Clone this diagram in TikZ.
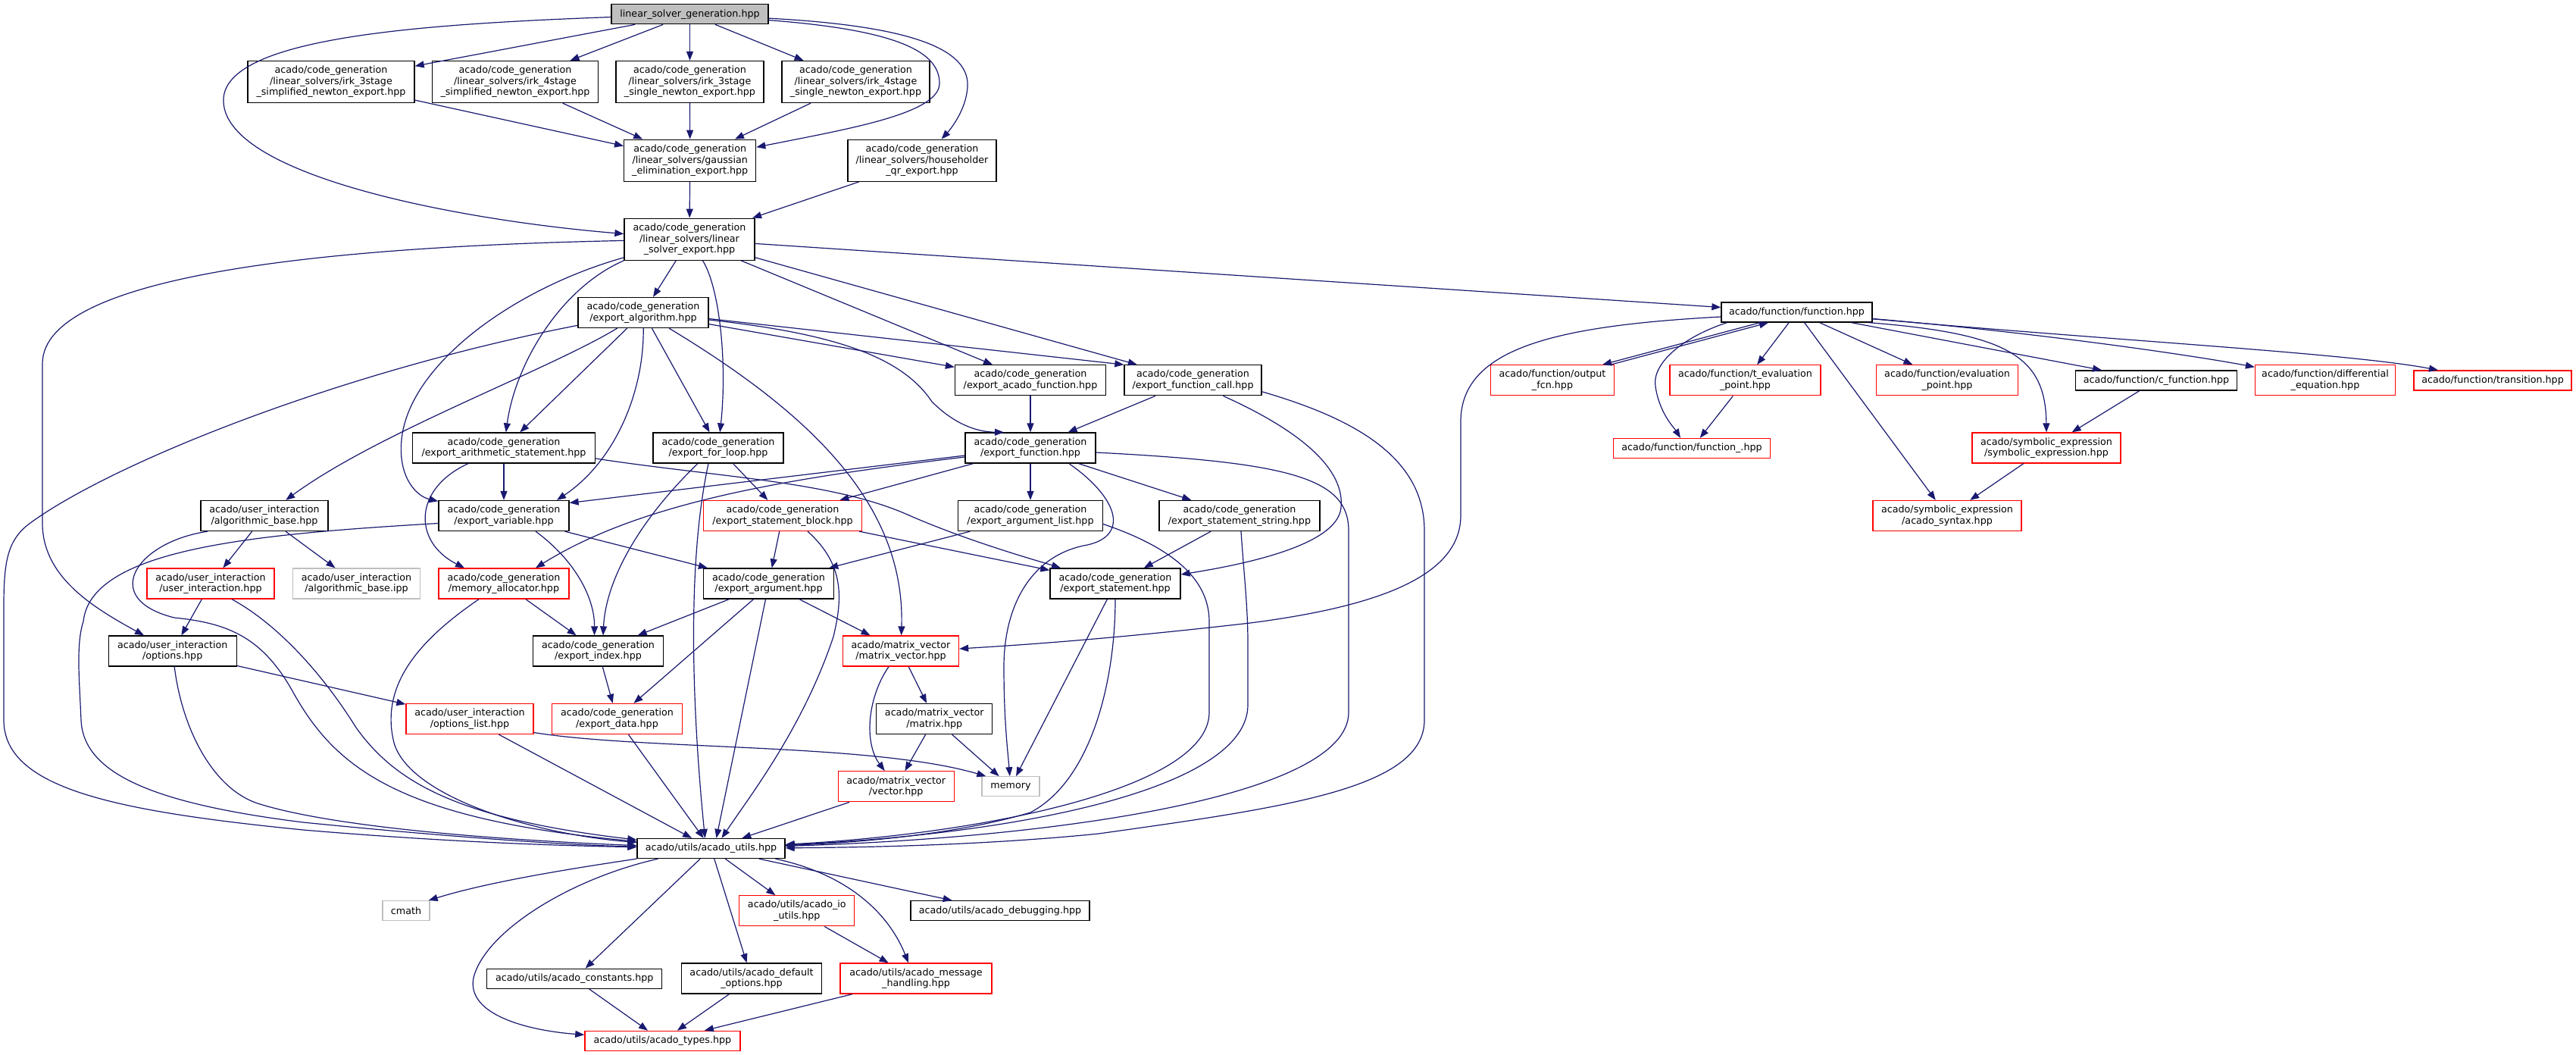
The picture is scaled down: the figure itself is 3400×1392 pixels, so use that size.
\documentclass[tikz,border=0pt]{standalone}
\usepackage{fontspec}
\setmainfont{DejaVu Sans}
\usetikzlibrary{arrows.meta}
\definecolor{edgec}{HTML}{191970}
\definecolor{grayb}{HTML}{BFBFBF}
\definecolor{redb}{HTML}{FF0000}
\newcommand{\dxfont}{\fontsize{12.7pt}{14.4pt}\selectfont}
\begin{document}
\begin{tikzpicture}[x=1pt,y=-1pt,
 nbase/.style={draw, line width=1.3pt, fill=white, align=center, inner xsep=1pt, inner ysep=0pt, font=\dxfont, text=black},
 nb/.style={nbase, draw=black},
 nr/.style={nbase, draw=redb},
 ng/.style={nbase, draw=grayb},
 nroot/.style={nbase, draw=black, fill=grayb},
 sz/.style 2 args={minimum width=#1pt, minimum height=#2pt},
 e/.style={draw=edgec, line width=1.2pt, -{Triangle[length=12pt,width=9pt]}}]
\fill[white] (0,0) rectangle (3400,1392);
\useasboundingbox (0,0) rectangle (3400,1392);
% nodes
\node[nroot, sz={207}{26}] (nT) at (910.5,18.7) {linear\_solver\_generation.hpp};
\node[nb, sz={220}{55}] (nA1) at (437,108) {acado/code\_generation\\/linear\_solvers/irk\_3stage\\\_simplified\_newton\_export.hpp};
\node[nb, sz={219}{55}] (nA2) at (680,108) {acado/code\_generation\\/linear\_solvers/irk\_4stage\\\_simplified\_newton\_export.hpp};
\node[nb, sz={195}{55}] (nA3) at (910.5,108) {acado/code\_generation\\/linear\_solvers/irk\_3stage\\\_single\_newton\_export.hpp};
\node[nb, sz={195}{55}] (nA4) at (1129.5,108) {acado/code\_generation\\/linear\_solvers/irk\_4stage\\\_single\_newton\_export.hpp};
\node[nb, sz={174}{55}] (nGa) at (910.7,211.7) {acado/code\_generation\\/linear\_solvers/gaussian\\\_elimination\_export.hpp};
\node[nb, sz={196}{55}] (nHo) at (1217,211.7) {acado/code\_generation\\/linear\_solvers/householder\\\_qr\_export.hpp};
\node[nb, sz={172}{55}] (nLs) at (910,315.7) {acado/code\_generation\\/linear\_solvers/linear\\\_solver\_export.hpp};
\node[nb, sz={172}{40}] (nEa) at (849,412.5) {acado/code\_generation\\/export\_algorithm.hpp};
\node[nb, sz={199}{26}] (nFu) at (2371.5,412) {acado/function/function.hpp};
\node[nb, sz={199}{40}] (nEaf) at (1360,501.8) {acado/code\_generation\\/export\_acado\_function.hpp};
\node[nb, sz={181}{40}] (nEfc) at (1574.5,501.8) {acado/code\_generation\\/export\_function\_call.hpp};
\node[nr, sz={163}{40}] (nOf) at (2049,501.8) {acado/function/output\\\_fcn.hpp};
\node[nr, sz={199}{40}] (nTe) at (2303.5,501.8) {acado/function/t\_evaluation\\\_point.hpp};
\node[nr, sz={187}{40}] (nEp) at (2570,501.8) {acado/function/evaluation\\\_point.hpp};
\node[nb, sz={213}{26}] (nCf) at (2846,502) {acado/function/c\_function.hpp};
\node[nr, sz={185}{40}] (nDe) at (3069,501.8) {acado/function/differential\\\_equation.hpp};
\node[nr, sz={208}{26}] (nTr) at (3290,502) {acado/function/transition.hpp};
\node[nb, sz={241}{40}] (nEas) at (665,591) {acado/code\_generation\\/export\_arithmetic\_statement.hpp};
\node[nb, sz={172}{40}] (nEfl) at (948,591) {acado/code\_generation\\/export\_for\_loop.hpp};
\node[nb, sz={172}{40}] (nEf) at (1360,591) {acado/code\_generation\\/export\_function.hpp};
\node[nr, sz={207}{26}] (nFx) at (2233,591.5) {acado/function/function\_.hpp};
\node[nr, sz={196}{40}] (nSe) at (2701,591) {acado/symbolic\_expression\\/symbolic\_expression.hpp};
\node[nb, sz={168}{40}] (nAb) at (349,680.5) {acado/user\_interaction\\/algorithmic\_base.hpp};
\node[nb, sz={172}{40}] (nEv) at (665,680.5) {acado/code\_generation\\/export\_variable.hpp};
\node[nr, sz={209}{40}] (nEsb) at (1033,680.5) {acado/code\_generation\\/export\_statement\_block.hpp};
\node[nb, sz={191}{40}] (nEal) at (1360,680.5) {acado/code\_generation\\/export\_argument\_list.hpp};
\node[nb, sz={212}{40}] (nEss) at (1636,680.5) {acado/code\_generation\\/export\_statement\_string.hpp};
\node[nr, sz={196}{40}] (nSyn) at (2570,680.5) {acado/symbolic\_expression\\/acado\_syntax.hpp};
\node[nr, sz={168}{40}] (nUi) at (278,770) {acado/user\_interaction\\/user\_interaction.hpp};
\node[ng, sz={168}{40}] (nAbi) at (470.5,770) {acado/user\_interaction\\/algorithmic\_base.ipp};
\node[nr, sz={172}{40}] (nMa) at (665,770) {acado/code\_generation\\/memory\_allocator.hpp};
\node[nb, sz={172}{40}] (nEar) at (1014.5,770) {acado/code\_generation\\/export\_argument.hpp};
\node[nb, sz={172}{40}] (nEs) at (1472,770) {acado/code\_generation\\/export\_statement.hpp};
\node[nb, sz={169}{40}] (nOpt) at (227.7,859) {acado/user\_interaction\\/options.hpp};
\node[nb, sz={172}{40}] (nEi) at (789.5,859) {acado/code\_generation\\/export\_index.hpp};
\node[nr, sz={153}{40}] (nMv) at (1189,859) {acado/matrix\_vector\\/matrix\_vector.hpp};
\node[nr, sz={168}{40}] (nOl) at (620,948.5) {acado/user\_interaction\\/options\_list.hpp};
\node[nr, sz={172}{40}] (nEd) at (814.5,948.5) {acado/code\_generation\\/export\_data.hpp};
\node[nb, sz={153}{40}] (nMat) at (1233.3,948.5) {acado/matrix\_vector\\/matrix.hpp};
\node[nr, sz={153}{40}] (nVec) at (1182.7,1037.8) {acado/matrix\_vector\\/vector.hpp};
\node[ng, sz={76}{26}] (nMem) at (1334,1037.8) {memory};
\node[nb, sz={195}{26}] (nUt) at (938.5,1119.5) {acado/utils/acado\_utils.hpp};
\node[ng, sz={62}{26}] (nCm) at (536,1201.7) {cmath};
\node[nr, sz={152}{40}] (nIo) at (1051.8,1201.8) {acado/utils/acado\_io\\\_utils.hpp};
\node[nb, sz={236}{26}] (nDb) at (1320,1201.7) {acado/utils/acado\_debugging.hpp};
\node[nb, sz={231}{26}] (nCo) at (758.3,1291.3) {acado/utils/acado\_constants.hpp};
\node[nb, sz={185}{40}] (nDo) at (992,1291) {acado/utils/acado\_default\\\_options.hpp};
\node[nr, sz={200}{40}] (nMh) at (1209,1291) {acado/utils/acado\_message\\\_handling.hpp};
\node[nr, sz={205}{26}] (nTy) at (874.4,1373.3) {acado/utils/acado\_types.hpp};
% edges from root
\draw[e] (nT) -- (nA1);
\draw[e] (nT) -- (nA2);
\draw[e] (nT) -- (nA3);
\draw[e] (nT) -- (nA4);
\draw[e] (nT) .. controls (1190,40) and (1240,70) .. (1240,110) .. controls (1240,150) and (1120,170) .. (nGa);
\draw[e] (nT) .. controls (1220,35) and (1280,70) .. (1277,115) .. controls (1275,145) and (1255,170) .. (nHo);
\draw[e] (nT) .. controls (550,32) and (300,50) .. (295,130) .. controls (290,230) and (600,290) .. (nLs);
\draw[e] (nA1) -- (nGa);
\draw[e] (nA2) -- (nGa);
\draw[e] (nA3) -- (nGa);
\draw[e] (nA4) -- (nGa);
\draw[e] (nGa) -- (nLs);
\draw[e] (nHo) -- (nLs);
% linear solver export
\draw[e] (nLs) -- (nEa);
\draw[e] (nLs.south west) .. controls (740,380) and (680,480) .. (nEas);
\draw[e] (nLs) .. controls (680,380) and (540,480) .. (530,580) .. controls (525,630) and (550,655) .. (nEv);
\draw[e] (nLs) .. controls (950,380) and (960,480) .. (nEfl);
\draw[e] (nLs) -- (nEaf);
\draw[e] (nLs) -- (nEfc);
\draw[e] (nLs) -- (nFu);
\draw[e] (nLs) .. controls (450,325) and (56,360) .. (56,480) -- (56,690) .. controls (56,760) and (120,800) .. (nOpt);
% export algorithm
\draw[e] (nEa) .. controls (720,490) and (500,570) .. (nAb);
\draw[e] (nEa) .. controls (450,490) and (150,610) .. (40,690) .. controls (10,712) and (5,740) .. (5,800) -- (5,950) .. controls (5,1040) and (150,1070) .. (400,1095) .. controls (600,1112) and (750,1116) .. (nUt);
\draw[e] (nEa) -- (nEas);
\draw[e] (nEa) .. controls (850,520) and (810,610) .. ([xshift=70pt]nEv.north);
\draw[e] (nEa) -- (nEfl);
\draw[e] (nEa) .. controls (1060,540) and (1195,660) .. (nMv);
\draw[e] (nEa) -- (nEaf);
\draw[e] ([yshift=-8pt]nEa.east) -- (nEfc.north west);
\draw[e] (nEa) .. controls (1100,440) and (1190,470) .. (1230,530) .. controls (1260,560) and (1290,570) .. ([xshift=-35pt]nEf.north);
% function.hpp
\draw[e] ([xshift=-48.5pt]nFu.south) -- ([xshift=66pt]nOf.north);
\draw[e] ([xshift=77pt]nOf.north) -- ([xshift=-37.5pt]nFu.south);
\draw[e] ([xshift=-92pt]nFu.south) .. controls (2220,445) and (2180,480) .. (2185,510) .. controls (2190,545) and (2210,565) .. ([xshift=-15pt]nFx.north);
\draw[e] (nFu) -- (nTe);
\draw[e] (nTe) -- (nFx);
\draw[e] (nFu) -- (nEp);
\draw[e] (nFu) -- (nSyn);
\draw[e] ([xshift=95pt]nFu.south) .. controls (2650,440) and (2700,470) .. (nSe.north);
\draw[e] (nFu) -- (nCf);
\draw[e] (nFu) .. controls (2700,440) and (2900,470) .. (nDe);
\draw[e] (nFu) .. controls (2800,450) and (3100,466) .. (nTr);
\draw[e] (nCf) -- (nSe);
\draw[e] (nSe) -- (nSyn);
\draw[e] ([yshift=-6pt]nFu.west) .. controls (2050,430) and (1925,460) .. (1928,560) -- (1928,680) .. controls (1928,760) and (1820,800) .. (1650,822) .. controls (1450,845) and (1330,852) .. ([yshift=3pt]nMv.east);
% arithmetic statement
\draw[e] (nEas) -- (nEv);
\draw[e] ([xshift=-47pt]nEas.south) .. controls (545,645) and (545,715) .. ([xshift=-52pt]nMa.north);
\draw[e] ([yshift=-14pt]nEas.east) .. controls (950,630) and (1100,635) .. (1200,680) .. controls (1280,715) and (1370,740) .. ([xshift=-72pt]nEs.north);
% for loop
\draw[e] ([xshift=-27pt]nEfl.south) .. controls (850,680) and (800,760) .. ([xshift=6.5pt]nEi.north);
\draw[e] ([xshift=-13pt]nEfl.south) .. controls (905,750) and (915,950) .. ([xshift=-8pt]nUt.north);
\draw[e] (nEfl) -- (nEsb);
% export function
\draw[e] ([yshift=-10pt]nEf.west) -- ([yshift=17pt]nEv.east);
\draw[e] ([yshift=-12pt]nEf.west) .. controls (1050,630) and (850,660) .. ([xshift=42pt]nMa.north);
\draw[e] (nEf) -- (nEsb);
\draw[e] (nEf) -- (nEal);
\draw[e] ([xshift=51pt]nEf.south) .. controls (1480,660) and (1490,710) .. (1430,720) .. controls (1360,735) and (1325,800) .. (1325,880) .. controls (1325,950) and (1330,990) .. (nMem);
\draw[e] (nEf) -- (nEss);
\draw[e] ([yshift=-6pt]nEf.east) .. controls (1700,610) and (1780,630) .. (1780,700) -- (1780,940) .. controls (1780,1050) and (1400,1105) .. (nUt);
% function call
\draw[e] (nEfc) -- (nEf);
\draw[e] ([xshift=40pt]nEfc.south) .. controls (1720,570) and (1775,620) .. (1770,670) .. controls (1765,720) and (1640,745) .. ([yshift=12pt]nEs.east);
\draw[e] ([yshift=-15pt]nEfc.east) .. controls (1780,550) and (1880,600) .. (1880,700) -- (1880,950) .. controls (1880,1040) and (1700,1065) .. (1450,1100) .. controls (1300,1115) and (1150,1118) .. (nUt);
\draw[e] (nEaf) -- (nEf);
% algorithmic base
\draw[e] (nAb) -- (nUi);
\draw[e] (nAb) -- (nAbi);
\draw[e] ([xshift=-75pt]nAb.south) .. controls (180,715) and (130,790) .. (230,815) .. controls (300,822) and (345,840) .. (385,910) .. controls (440,1010) and (520,1080) .. (nUt);
% user interaction, options
\draw[e] (nUi) -- (nOpt);
\draw[e] ([xshift=28pt]nUi.south) .. controls (360,820) and (420,880) .. (470,960) .. controls (520,1030) and (600,1080) .. (nUt);
\draw[e] (nOpt) -- (nOl);
\draw[e] (nOpt) .. controls (240,960) and (280,1040) .. (340,1060) .. controls (450,1095) and (700,1110) .. (nUt);
% memory allocator
\draw[e] (nMa) -- (nEi);
\draw[e] ([xshift=-33pt]nMa.south) .. controls (560,840) and (500,900) .. (520,980) .. controls (540,1050) and (700,1100) .. (nUt);
% export variable
\draw[e] ([yshift=-10pt]nEv.west) .. controls (330,705) and (120,725) .. (110,820) .. controls (100,850) and (105,900) .. (107,950) .. controls (110,1020) and (200,1060) .. (400,1085) .. controls (600,1105) and (750,1115) .. (nUt);
\draw[e] ([xshift=42pt]nEv.south) .. controls (760,740) and (785,790) .. ([xshift=-5pt]nEi.north);
\draw[e] (nEv) -- (nEar);
% statement block
\draw[e] (nEsb) -- (nEar);
\draw[e] (nEsb) -- (nEs);
\draw[e] ([xshift=33pt]nEsb.south) .. controls (1115,745) and (1112,790) .. (1100,840) .. controls (1060,960) and (990,1050) .. ([xshift=14pt]nUt.north);
% argument list, statement string, statement
\draw[e] (nEal) -- (nEar);
\draw[e] ([yshift=-11pt]nEal.east) .. controls (1540,720) and (1596,760) .. (1596,820) -- (1596,940) .. controls (1596,1040) and (1300,1100) .. (nUt);
\draw[e] (nEss) -- (nEs);
\draw[e] ([xshift=2pt]nEss.south) .. controls (1642,760) and (1647,800) .. (1647,850) -- (1647,930) .. controls (1647,1040) and (1350,1100) .. (nUt);
\draw[e] (nEs) -- (nMem);
\draw[e] (nEs) .. controls (1472,900) and (1440,1030) .. (1360,1072) .. controls (1250,1105) and (1100,1113) .. (nUt);
% export argument
\draw[e] (nEar) -- (nEi);
\draw[e] ([xshift=-20pt]nEar.south) -- ([xshift=22pt]nEd.north);
\draw[e] ([xshift=-4pt]nEar.south) -- ([xshift=7pt]nUt.north);
\draw[e] (nEar) -- (nMv);
\draw[e] (nEi) -- (nEd);
\draw[e] (nEd) -- (nUt);
\draw[e] (nOl) -- (nUt);
\draw[e] ([yshift=-18pt]nOl.east) .. controls (850,990) and (1150,980) .. ([xshift=6pt]nMem.north west);
% matrix vector
\draw[e] (nMv) -- (nMat);
\draw[e] ([xshift=-16pt]nMv.south) .. controls (1145,920) and (1140,980) .. ([xshift=-15pt]nVec.north);
\draw[e] (nMat) -- (nVec);
\draw[e] (nMat) -- (nMem);
\draw[e] (nVec) -- (nUt);
% utils
\draw[e] (nUt.south west) .. controls (740,1148) and (640,1165) .. ([xshift=-2pt]nCm.north east);
\draw[e] ([xshift=-70pt]nUt.south) .. controls (750,1160) and (640,1230) .. (625,1290) .. controls (615,1340) and (700,1360) .. ([yshift=8pt]nTy.west);
\draw[e] (nUt) -- (nCo);
\draw[e] (nUt) -- (nDo);
\draw[e] (nUt) -- (nIo);
\draw[e] ([xshift=85pt]nUt.south) .. controls (1125,1155) and (1175,1210) .. ([xshift=-10pt]nMh.north);
\draw[e] (nUt) -- (nDb);
\draw[e] (nIo) -- (nMh);
\draw[e] (nCo) -- (nTy);
\draw[e] (nDo) -- (nTy);
\draw[e] (nMh) -- (nTy);
\end{tikzpicture}
\end{document}
